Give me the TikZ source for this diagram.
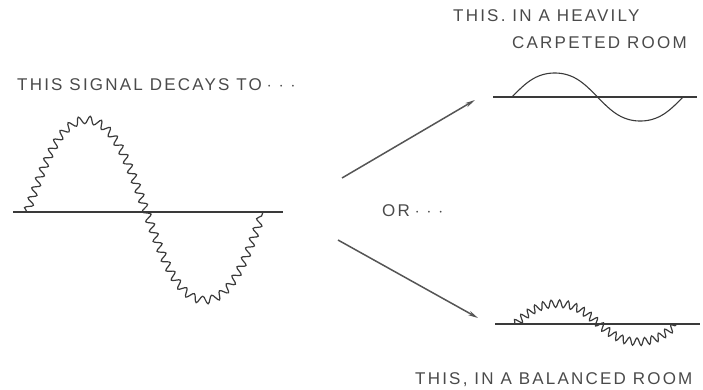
\documentclass[tikz,border=0pt]{standalone}
\usepackage{fontspec}
\setmainfont{Liberation Sans}
\usetikzlibrary{decorations.pathmorphing,arrows.meta}
\definecolor{ink}{HTML}{3A3A3A}
\definecolor{txt}{HTML}{4A4A4A}
\definecolor{arr}{HTML}{555555}
\newcommand{\trail}{\hspace{5pt}$\cdot$\hspace{7pt}$\cdot$\hspace{7pt}$\cdot$}
\tikzset{
  lbl/.style={font=\fontsize{17}{19}\selectfont\addfontfeatures{LetterSpace=13}, text=txt, inner sep=0pt, anchor=west},
  axis/.style={draw=ink, line width=1.1pt},
  clean/.style={draw=ink, line width=1.1pt},
  rippled/.style={draw=ink, line width=1.2pt, decorate, decoration={snake, segment length=#1, amplitude=3.8pt}},
  pointer/.style={draw=arr, line width=1.5pt, -{Stealth[length=10pt,width=4.5pt]}},
  declare function={shp(\t)=(sin(\t)+0.04*sin(3*\t))/0.96;},
}
\begin{document}
\begin{tikzpicture}[x=1pt,y=-1pt]
\useasboundingbox (0,0) rectangle (703,389);
% labels
\node[lbl] (t1) at (17,85) {THIS SIGNAL DECAYS TO\trail};
\node[lbl] (t2) at (453,16) {THIS. IN A HEAVILY};
\node[lbl] (t3) at (512,43) {CARPETED ROOM};
\node[lbl] (t4) at (382,211) {OR\trail};
\node[lbl] (t5) at (415,380) {THIS, IN A BALANCED ROOM};
% left signal
\coordinate (la) at (13,212);
\coordinate (lb) at (283,212);
\draw[axis] (la) -- (lb);
\draw[rippled=10.5pt] plot[domain=27:263, samples=240] (\x, {212 - 90*shp((\x-27)/(263-27)*360)});
% upper right signal
\coordinate (ua) at (493,97);
\coordinate (ub) at (697,97);
\draw[axis] (ua) -- (ub);
\draw[clean] plot[domain=512:683, samples=180] (\x, {97 - 24*shp((\x-512)/(683-512)*360)});
% lower right signal
\coordinate (da) at (495,324);
\coordinate (db) at (700,324);
\draw[axis] (da) -- (db);
\draw[rippled=8pt] plot[domain=515:677, samples=180] (\x, {324 - 19*shp((\x-515)/(677-515)*360)});
% arrows
\coordinate (p1s) at (342,178);
\coordinate (p1e) at (475,100);
\coordinate (p2s) at (338,240);
\coordinate (p2e) at (478,318);
\draw[pointer] (p1s) -- (p1e);
\draw[pointer] (p2s) -- (p2e);
\end{tikzpicture}
\end{document}
